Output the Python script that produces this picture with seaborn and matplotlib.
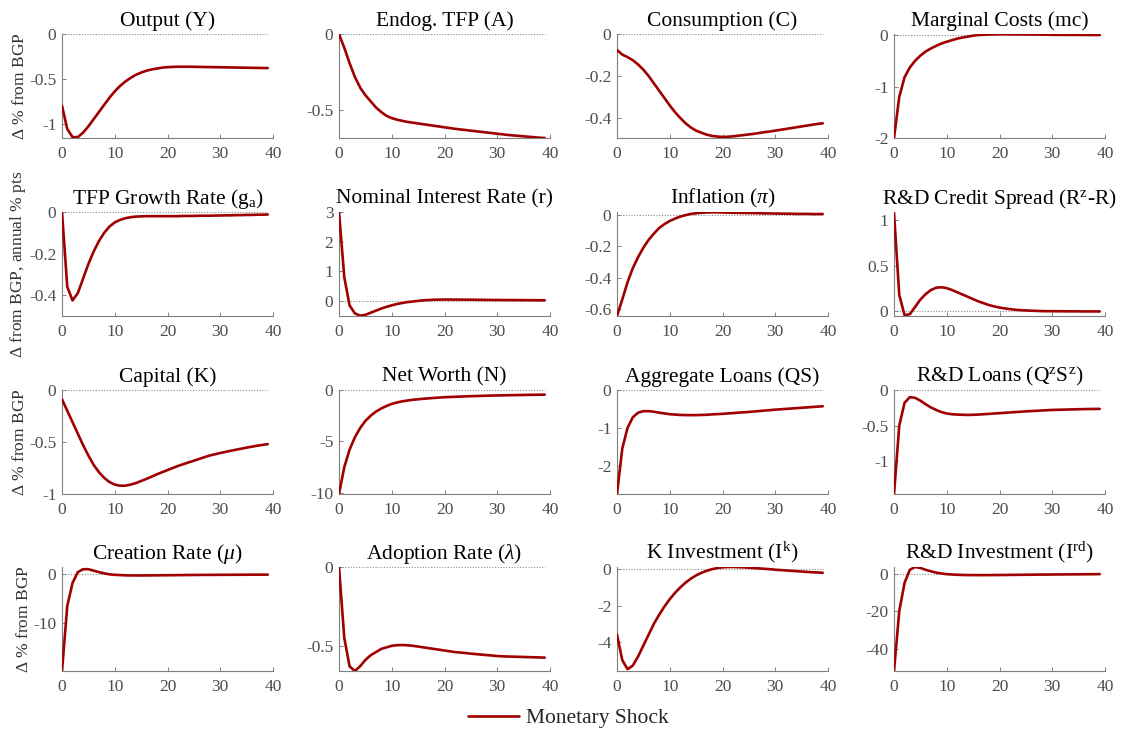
import numpy as np
import matplotlib
matplotlib.use("Agg")
import matplotlib.pyplot as plt
from matplotlib.ticker import FuncFormatter
from matplotlib.lines import Line2D
import seaborn as sns

# Impulse responses to a monetary policy shock, quarters 0..39
quarters = list(range(40))

output_y = [-0.80, -1.06, -1.15, -1.15, -1.10, -1.03, -0.95, -0.87, -0.79, -0.71,
            -0.64, -0.58, -0.53, -0.49, -0.455, -0.43, -0.41, -0.395, -0.385, -0.375,
            -0.37, -0.367, -0.365, -0.365, -0.365, -0.366, -0.367, -0.368, -0.369, -0.37,
            -0.371, -0.372, -0.373, -0.374, -0.375, -0.376, -0.377, -0.378, -0.379, -0.38]
endog_tfp = [0.0, -0.09, -0.19, -0.28, -0.35, -0.40, -0.44, -0.48, -0.51, -0.535,
             -0.55, -0.56, -0.568, -0.575, -0.58, -0.585, -0.59, -0.595, -0.60, -0.605,
             -0.61, -0.615, -0.62, -0.624, -0.628, -0.632, -0.636, -0.64, -0.644, -0.648,
             -0.652, -0.656, -0.66, -0.663, -0.666, -0.669, -0.672, -0.675, -0.678, -0.68]
consumption = [-0.076, -0.098, -0.11, -0.125, -0.145, -0.17, -0.20, -0.235, -0.27, -0.305,
               -0.34, -0.372, -0.40, -0.425, -0.445, -0.46, -0.47, -0.479, -0.485, -0.488,
               -0.49, -0.489, -0.487, -0.484, -0.481, -0.478, -0.475, -0.471, -0.467, -0.464,
               -0.46, -0.456, -0.452, -0.448, -0.444, -0.44, -0.436, -0.432, -0.428, -0.425]
marginal_costs = [-2.0, -1.2, -0.82, -0.63, -0.50, -0.40, -0.32, -0.26, -0.21, -0.165,
                  -0.13, -0.10, -0.07, -0.048, -0.03, -0.013, 0.0, 0.006, 0.01, 0.013,
                  0.015, 0.015, 0.014, 0.013, 0.012, 0.011, 0.01, 0.009, 0.008, 0.007,
                  0.005, 0.004, 0.003, 0.003, 0.002, 0.002, 0.001, 0.001, 0.0, 0.0]
tfp_growth = [0.0, -0.36, -0.425, -0.39, -0.32, -0.25, -0.19, -0.14, -0.10, -0.07,
              -0.05, -0.038, -0.03, -0.025, -0.022, -0.021, -0.02, -0.02, -0.02, -0.02,
              -0.02, -0.02, -0.02, -0.019, -0.019, -0.019, -0.018, -0.018, -0.018, -0.017,
              -0.017, -0.016, -0.016, -0.015, -0.015, -0.014, -0.014, -0.013, -0.013, -0.012]
nominal_rate = [3.0, 0.8, -0.15, -0.42, -0.50, -0.47, -0.40, -0.33, -0.26, -0.20,
                -0.15, -0.105, -0.07, -0.04, -0.02, 0.0, 0.02, 0.03, 0.04, 0.043,
                0.045, 0.045, 0.044, 0.043, 0.042, 0.04, 0.038, 0.036, 0.034, 0.032,
                0.03, 0.029, 0.028, 0.027, 0.026, 0.025, 0.024, 0.022, 0.021, 0.02]
inflation = [-0.645, -0.54, -0.43, -0.34, -0.27, -0.21, -0.16, -0.12, -0.085, -0.06,
             -0.04, -0.025, -0.012, -0.003, 0.005, 0.009, 0.012, 0.014, 0.015, 0.015,
             0.014, 0.013, 0.012, 0.011, 0.011, 0.01, 0.01, 0.009, 0.008, 0.008,
             0.007, 0.007, 0.006, 0.006, 0.005, 0.005, 0.005, 0.004, 0.004, 0.004]
credit_spread = [1.08, 0.18, -0.04, -0.03, 0.05, 0.13, 0.19, 0.235, 0.26, 0.265,
                 0.255, 0.235, 0.21, 0.185, 0.16, 0.135, 0.11, 0.09, 0.07, 0.055,
                 0.043, 0.033, 0.025, 0.019, 0.014, 0.011, 0.008, 0.006, 0.004, 0.003,
                 0.003, 0.002, 0.002, 0.001, 0.001, 0.001, 0.0, 0.0, 0.0, 0.0]
capital = [-0.09, -0.20, -0.31, -0.42, -0.53, -0.63, -0.72, -0.79, -0.845, -0.885,
           -0.91, -0.92, -0.92, -0.91, -0.895, -0.875, -0.855, -0.833, -0.81, -0.79,
           -0.77, -0.75, -0.73, -0.713, -0.696, -0.68, -0.663, -0.646, -0.63, -0.618,
           -0.606, -0.595, -0.584, -0.574, -0.564, -0.554, -0.545, -0.536, -0.528, -0.52]
net_worth = [-10.1, -7.5, -5.8, -4.6, -3.7, -3.0, -2.5, -2.1, -1.8, -1.55,
             -1.35, -1.21, -1.1, -1.02, -0.95, -0.9, -0.85, -0.81, -0.77, -0.735,
             -0.7, -0.68, -0.66, -0.64, -0.62, -0.6, -0.585, -0.57, -0.555, -0.54,
             -0.53, -0.52, -0.51, -0.5, -0.49, -0.48, -0.47, -0.465, -0.457, -0.45]
aggregate_loans = [-2.75, -1.55, -1.0, -0.72, -0.60, -0.56, -0.56, -0.575, -0.60, -0.62,
                   -0.64, -0.65, -0.66, -0.663, -0.665, -0.664, -0.66, -0.655, -0.645, -0.638,
                   -0.63, -0.62, -0.61, -0.6, -0.59, -0.58, -0.568, -0.556, -0.544, -0.532,
                   -0.52, -0.51, -0.5, -0.49, -0.48, -0.47, -0.46, -0.45, -0.44, -0.43]
rd_loans = [-1.46, -0.50, -0.18, -0.10, -0.11, -0.15, -0.20, -0.245, -0.28, -0.31,
            -0.33, -0.34, -0.345, -0.348, -0.35, -0.348, -0.345, -0.34, -0.335, -0.33,
            -0.325, -0.32, -0.315, -0.31, -0.305, -0.3, -0.296, -0.292, -0.288, -0.284,
            -0.28, -0.278, -0.276, -0.274, -0.272, -0.27, -0.268, -0.267, -0.266, -0.265]
creation_rate = [-19.8, -6.5, -1.8, 0.4, 1.0, 1.0, 0.7, 0.4, 0.15, -0.05,
                 -0.15, -0.2, -0.25, -0.27, -0.28, -0.28, -0.27, -0.26, -0.25, -0.24,
                 -0.23, -0.22, -0.21, -0.2, -0.19, -0.18, -0.17, -0.165, -0.16, -0.155,
                 -0.15, -0.145, -0.14, -0.135, -0.13, -0.125, -0.12, -0.115, -0.11, -0.11]
adoption_rate = [0.0, -0.45, -0.63, -0.66, -0.63, -0.59, -0.56, -0.54, -0.52, -0.51,
                 -0.50, -0.496, -0.495, -0.497, -0.50, -0.505, -0.51, -0.515, -0.52, -0.525,
                 -0.53, -0.535, -0.54, -0.543, -0.546, -0.55, -0.553, -0.556, -0.559, -0.562,
                 -0.565, -0.567, -0.568, -0.569, -0.57, -0.571, -0.572, -0.573, -0.574, -0.575]
k_investment = [-3.6, -5.0, -5.5, -5.3, -4.8, -4.2, -3.6, -3.0, -2.5, -2.05,
                -1.65, -1.3, -1.0, -0.74, -0.52, -0.34, -0.2, -0.09, 0.0, 0.06,
                0.1, 0.12, 0.12, 0.11, 0.1, 0.08, 0.06, 0.04, 0.02, 0.0,
                -0.03, -0.05, -0.07, -0.09, -0.11, -0.13, -0.15, -0.17, -0.18, -0.2]
rd_investment = [-52.0, -20.0, -5.0, 2.0, 3.5, 3.0, 2.0, 1.2, 0.5, 0.0,
                 -0.3, -0.5, -0.65, -0.75, -0.8, -0.82, -0.83, -0.83, -0.82, -0.8,
                 -0.78, -0.75, -0.72, -0.69, -0.66, -0.63, -0.6, -0.57, -0.55, -0.53,
                 -0.5, -0.48, -0.46, -0.44, -0.42, -0.4, -0.38, -0.35, -0.33, -0.3]

titles = ["Output (Y)", "Endog. TFP (A)", "Consumption (C)", "Marginal Costs (mc)",
          r"TFP Growth Rate (g$_\mathrm{a}$)", "Nominal Interest Rate (r)",
          r"Inflation ($\pi$)", r"R&D Credit Spread (R$^\mathrm{z}$-R)",
          "Capital (K)", "Net Worth (N)", "Aggregate Loans (QS)",
          r"R&D Loans (Q$^\mathrm{z}$S$^\mathrm{z}$)",
          r"Creation Rate ($\mu$)", r"Adoption Rate ($\lambda$)",
          r"K Investment (I$^\mathrm{k}$)", r"R&D Investment (I$^\mathrm{rd}$)"]
series = [output_y, endog_tfp, consumption, marginal_costs,
          tfp_growth, nominal_rate, inflation, credit_spread,
          capital, net_worth, aggregate_loans, rd_loans,
          creation_rate, adoption_rate, k_investment, rd_investment]
y_limits = [(-1.16, 0), (-0.68, 0), (-0.495, 0), (-2.0, 0.02),
            (-0.5, 0), (-0.51, 3.0), (-0.645, 0.017), (-0.05, 1.09),
            (-1.0, 0), (-10.1, 0), (-2.75, 0), (-1.46, 0),
            (-19.8, 1.45), (-0.66, 0), (-5.6, 0.12), (-52.0, 3.5)]
y_ticks = [[-1, -0.5, 0], [-0.5, 0], [-0.4, -0.2, 0], [-2, -1, 0],
           [-0.4, -0.2, 0], [0, 1, 2, 3], [-0.6, -0.4, -0.2, 0], [0, 0.5, 1],
           [-1, -0.5, 0], [-10, -5, 0], [-2, -1, 0], [-1, -0.5, 0],
           [-10, 0], [-0.5, 0], [-4, -2, 0], [-40, -20, 0]]
row_labels = [r"$\Delta$ % from BGP", r"$\Delta$ from BGP, annual % pts",
              r"$\Delta$ % from BGP", r"$\Delta$ % from BGP"]
x_ticks = [0, 10, 20, 30, 40]

sns.set_theme(style="white")
plt.rcParams["font.family"] = ["Liberation Serif", "DejaVu Serif"]
plt.rcParams["mathtext.fontset"] = "custom"
plt.rcParams["mathtext.rm"] = "Liberation Serif"
plt.rcParams["mathtext.it"] = "Liberation Serif:italic"
plt.rcParams["axes.unicode_minus"] = False

W, H = 1122, 735
fig = plt.figure(figsize=(W / 100, H / 100), dpi=100)

line_color = "#a00000"
axis_gray = "#7f7f7f"
tick_gray = "#4d4d4d"

col_left = [62, 339, 617, 894]
ax_w = 211
row_top = [34, 212, 390, 567]
ax_h = 104

fmt = FuncFormatter(lambda v, p: "%g" % v)

for i, (title, vals) in enumerate(zip(titles, series)):
    r, c = divmod(i, 4)
    ax = fig.add_axes([col_left[c] / W, 1 - (row_top[r] + ax_h) / H, ax_w / W, ax_h / H])
    ax.hlines(0, quarters[0], quarters[-1], colors="#8c8c8c", linestyles=(0, (1, 1.5)),
              linewidth=0.8, zorder=1)
    sns.lineplot(x=quarters, y=vals, ax=ax, color=line_color, linewidth=1.9, zorder=3)
    ax.set_xlim(0, 40)
    ax.set_ylim(*y_limits[i])
    ax.set_xticks(x_ticks)
    ax.set_yticks(y_ticks[i])
    ax.yaxis.set_major_formatter(fmt)
    ax.xaxis.set_major_formatter(fmt)
    ax.tick_params(direction="in", length=3, width=0.7, colors=axis_gray,
                   labelcolor=tick_gray, labelsize=12.5, bottom=True, left=True)
    ax.tick_params(axis="x", pad=6)
    ax.tick_params(axis="y", pad=4)
    for s in ["top", "right"]:
        ax.spines[s].set_visible(False)
    for s in ["left", "bottom"]:
        ax.spines[s].set_color(axis_gray)
        ax.spines[s].set_linewidth(0.8)
    ax.set_title(title, fontsize=15.5, color="black", pad=6)
    ax.set_xlabel("")
    if c == 0:
        ax.set_ylabel(row_labels[r], fontsize=12.5, color="#333333", labelpad=1)
    else:
        ax.set_ylabel("")

handle = Line2D([], [], color=line_color, linewidth=1.9)
fig.legend([handle], ["Monetary Shock"], loc="center", bbox_to_anchor=(568 / W, 1 - 718 / H),
           frameon=False, fontsize=15.5, handlelength=2.4, handletextpad=0.3)

fig.savefig("out.png", dpi=100)
